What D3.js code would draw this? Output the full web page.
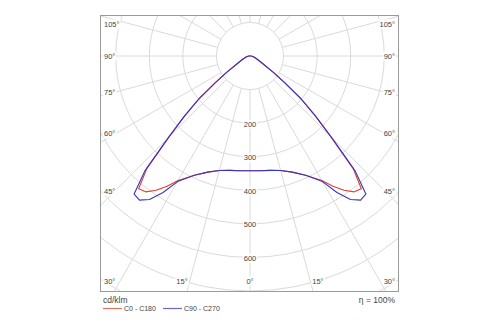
<!DOCTYPE html>
<html>
<head>
<meta charset="utf-8">
<script src="https://cdn.jsdelivr.net/npm/d3@7"></script>
<style>
  html, body { margin: 0; padding: 0; background: #fff; }
  svg { display: block; font-family: "Liberation Sans", Arial, sans-serif; }
</style>
</head>
<body>
<svg id="chart" width="500" height="325"></svg>
<script>
// Luminous intensity distribution, cd/klm, by angle from nadir (degrees)
const gammas   = [0, 5, 10, 15, 20, 25, 30, 32.5, 35, 37.5, 40, 42.5, 45, 47.5, 50, 52.5, 55, 60, 65, 70, 75, 80, 85, 90];
const c0c180   = [342, 343, 346, 353, 368, 392, 428, 460, 488, 510, 516, 455, 340, 263, 197, 130, 85, 40, 25, 17, 12, 8, 6, 4];
const c90c270  = [342, 343, 346, 353, 368, 392, 432, 482, 522, 541, 537, 462, 345, 265, 198, 130, 85, 40, 25, 17, 12, 8, 6, 4];
const seriesNames  = ["C0 - C180", "C90 - C270"];
const seriesColors = ["#e0402e", "#3a34c4"];

const radiusTicks  = [200, 300, 400, 500, 600];
const gridCircles  = [100, 200, 300, 400, 500, 600, 700, 800, 900];
const angleLabels  = [0, 15, 30, 45, 60, 75, 90, 105];
const unitLabel = "cd/klm";
const efficiencyLabel = "η = 100%";

// Frame and pole
const box = { left: 100, top: 15, right: 399, bottom: 291 };
const cx = 250, cy = 56;

const svg = d3.select("#chart");
const r = d3.scaleLinear().domain([0, 700]).range([0, box.bottom - cy]);

svg.append("defs").append("clipPath").attr("id", "plotClip")
  .append("rect")
  .attr("x", box.left).attr("y", box.top)
  .attr("width", box.right - box.left).attr("height", box.bottom - box.top);

const plot = svg.append("g").attr("clip-path", "url(#plotClip)");
const grid = plot.append("g").attr("transform", `translate(${cx},${cy})`);

// Concentric circles
grid.selectAll("circle.grid")
  .data(gridCircles)
  .join("circle")
  .attr("class", "grid")
  .attr("r", d => r(d))
  .attr("fill", "none")
  .attr("stroke", "#dadada")
  .attr("stroke-width", 1);

// Spokes every 15 degrees, starting at the innermost circle
const spokes = d3.range(0, 360, 15);
grid.selectAll("line.spoke")
  .data(spokes)
  .join("line")
  .attr("class", "spoke")
  .attr("x1", d => r(100) * Math.sin(d * Math.PI / 180))
  .attr("y1", d => r(100) * Math.cos(d * Math.PI / 180))
  .attr("x2", d => r(1200) * Math.sin(d * Math.PI / 180))
  .attr("y2", d => r(1200) * Math.cos(d * Math.PI / 180))
  .attr("stroke", "#dadada")
  .attr("stroke-width", 1);

// Labels with white backing
function addLabel(g, x, y, text, anchor) {
  const t = g.append("text")
    .attr("x", x).attr("y", y)
    .attr("text-anchor", anchor)
    .attr("dominant-baseline", "central")
    .attr("font-size", 7.5)
    .attr("fill", "#444")
    .text(text);
  const bb = t.node().getBBox();
  g.insert("rect", "text")
    .attr("x", bb.x - 1).attr("y", bb.y)
    .attr("width", bb.width + 2).attr("height", bb.height)
    .attr("fill", "#fff");
  return t;
}

const labelLayer = svg.append("g");

// Radius labels along the downward axis
radiusTicks.forEach(v => {
  const g = labelLayer.append("g");
  addLabel(g, cx, cy + r(v) + 1, String(v), "middle");
});

// Angle labels on both sides
angleLabels.forEach(a => {
  const rad = a * Math.PI / 180;
  [-1, 1].forEach(side => {
    if (a === 0 && side === 1) return;
    const g = labelLayer.append("g");
    const txt = a + "°";
    if (a >= 30) {
      let y = cy + 135 * Math.cos(rad) / Math.sin(rad);
      y = Math.max(box.top + 9, Math.min(box.bottom - 10, y));
      const x = side < 0 ? box.left + 4 : box.right - 4;
      addLabel(g, x, y, txt, side < 0 ? "start" : "end");
    } else {
      const y = box.bottom - 10;
      const x = cx + side * (y - cy) * Math.tan(rad);
      if (a === 0) addLabel(g, x, y, txt, "middle");
      else addLabel(g, x + side * 2, y, txt, side < 0 ? "end" : "start");
    }
  });
});

// Intensity curves: left half (C180 / C270) then right half (C0 / C90)
function curvePoints(values) {
  const pts = [];
  for (let i = gammas.length - 1; i >= 0; i--) pts.push([Math.PI + gammas[i] * Math.PI / 180, r(values[i])]);
  for (let i = 1; i < gammas.length; i++) pts.push([Math.PI - gammas[i] * Math.PI / 180, r(values[i])]);
  return pts;
}
const radial = d3.lineRadial().angle(d => d[0]).radius(d => d[1]).curve(d3.curveLinearClosed);

const curves = svg.append("g").attr("transform", `translate(${cx},${cy})`);
[c0c180, c90c270].forEach((vals, i) => {
  curves.append("path")
    .attr("d", radial(curvePoints(vals)))
    .attr("fill", "none")
    .attr("stroke", seriesColors[i])
    .attr("stroke-width", 1.1)
    .attr("stroke-linejoin", "round");
});

// Frame
svg.append("rect")
  .attr("x", box.left + 0.5).attr("y", box.top + 0.5)
  .attr("width", box.right - box.left - 1).attr("height", box.bottom - box.top)
  .attr("fill", "none")
  .attr("stroke", "#9a9a9a")
  .attr("stroke-width", 1);

// Footer: unit, efficiency, legend
svg.append("text")
  .attr("x", 103).attr("y", 303)
  .attr("font-size", 8.5).attr("fill", "#444")
  .text(unitLabel);
svg.append("text")
  .attr("x", 395).attr("y", 303)
  .attr("text-anchor", "end")
  .attr("font-size", 8.5).attr("fill", "#444")
  .text(efficiencyLabel);

const legend = svg.append("g");
const legendX = [103, 163];
seriesNames.forEach((name, i) => {
  legend.append("line")
    .attr("x1", legendX[i]).attr("x2", legendX[i] + 19)
    .attr("y1", 308.5).attr("y2", 308.5)
    .attr("stroke", seriesColors[i])
    .attr("stroke-opacity", 0.75)
    .attr("stroke-width", 1.2);
  legend.append("text")
    .attr("x", legendX[i] + 21).attr("y", 311)
    .attr("font-size", 7).attr("fill", "#444")
    .text(name);
});
</script>
</body>
</html>
